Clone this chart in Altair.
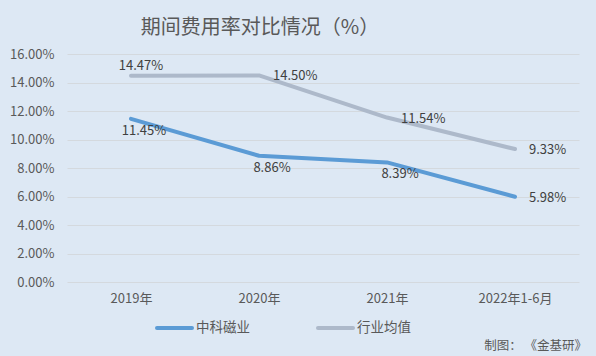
import altair as alt
import pandas as pd

categories = ["2019年", "2020年", "2021年", "2022年1-6月"]
series_names = ["中科磁业", "行业均值"]
zhongke = [11.45, 8.86, 8.39, 5.98]
industry = [14.47, 14.50, 11.54, 9.33]
y_ticks = [0, 2, 4, 6, 8, 10, 12, 14, 16]

rows = []
for i, c in enumerate(categories):
    rows.append({"cat": c, "series": series_names[0], "v": zhongke[i], "idx": i})
    rows.append({"cat": c, "series": series_names[1], "v": industry[i], "idx": i})
df = pd.DataFrame(rows)
df["label"] = df["v"].map(lambda v: f"{v:.2f}%")

BG = "#dde8f4"
BLUE = "#5b9bd5"
GRAY = "#adb9ca"
FONT = "Noto Sans CJK SC"

x_enc = alt.X("cat:N", sort=categories, title=None,
              scale=alt.Scale(type="point", padding=0.5),
              axis=alt.Axis(labelAngle=0, domain=False, ticks=False, labelColor="#595959",
                            labelFontSize=13, labelPadding=10, labelFont=FONT, grid=False))
y_enc = alt.Y("v:Q", title=None, scale=alt.Scale(domain=[0, 16], nice=False),
              axis=alt.Axis(values=y_ticks, labelExpr="format(datum.value, '.2f') + '%'",
                            labelOverlap=False, tickCount=9,
                            domain=False, ticks=False, labelColor="#595959", labelFontSize=13,
                            labelPadding=13, labelFont=FONT, gridColor="#d4d9de", gridWidth=1))

color_scale = alt.Scale(domain=series_names, range=[BLUE, GRAY])

lines = alt.Chart(df).mark_line(strokeWidth=4, strokeCap="round", strokeJoin="round").encode(
    x=x_enc, y=y_enc,
    color=alt.Color("series:N", scale=color_scale, legend=None),
    order="idx:Q",
)

base = alt.Chart(df).encode(x=x_enc, y=y_enc, text="label:N")
tstyle = dict(fontSize=13, color="#404040", font=FONT)

# label placements
above = base.transform_filter(
    (alt.datum.series == series_names[1]) & (alt.datum.idx == 0)
).mark_text(align="center", baseline="middle", dx=10, dy=-10, **tstyle)
right = base.transform_filter(
    ((alt.datum.series == series_names[1]) & (alt.datum.idx > 0)) |
    ((alt.datum.series == series_names[0]) & (alt.datum.idx == 3))
).mark_text(align="left", baseline="middle", dx=14, dy=1, **tstyle)
below = base.transform_filter(
    (alt.datum.series == series_names[0]) & (alt.datum.idx < 3)
).mark_text(align="center", baseline="middle", dx=13, dy=12, **tstyle)

# title
title = alt.Chart(pd.DataFrame({"t": ["期间费用率对比情况（%）"]})).mark_text(
    fontSize=20, color="#595959", font=FONT, align="center", baseline="middle"
).encode(text="t:N", x=alt.value(193), y=alt.value(-26))

# legend
leg_df = pd.DataFrame({"series": series_names})
leg_x = {series_names[0]: 90, series_names[1]: 251}
leg_layers = []
for s, col in zip(series_names, [BLUE, GRAY]):
    sub = alt.Chart(leg_df).transform_filter(alt.datum.series == s)
    leg_layers.append(sub.mark_rule(strokeWidth=4, strokeCap="round", color=col).encode(
        x=alt.value(leg_x[s]), x2=alt.value(leg_x[s] + 35), y=alt.value(274)))
    leg_layers.append(sub.mark_text(align="left", baseline="middle", fontSize=13.5,
                                    color="#595959", font=FONT).encode(
        text="series:N", x=alt.value(leg_x[s] + 39), y=alt.value(274)))

source = alt.Chart(pd.DataFrame({"t": ["制图：  《金基研》"]})).mark_text(
    fontSize=12.5, color="#595959", font=FONT, align="right", baseline="middle"
).encode(text="t:N", x=alt.value(520), y=alt.value(292))

chart = alt.layer(lines, above, right, below, title, *leg_layers, source).properties(
    width=512, height=228,
    background=BG,
    padding={"left": 67, "top": 54, "right": 17, "bottom": 74},
    autosize=alt.AutoSizeParams(type="none"),
).configure_view(stroke=None).configure_axisY(labelOverlap=False)

chart.save("out.html", embed_options={"renderer": "svg", "actions": False})
